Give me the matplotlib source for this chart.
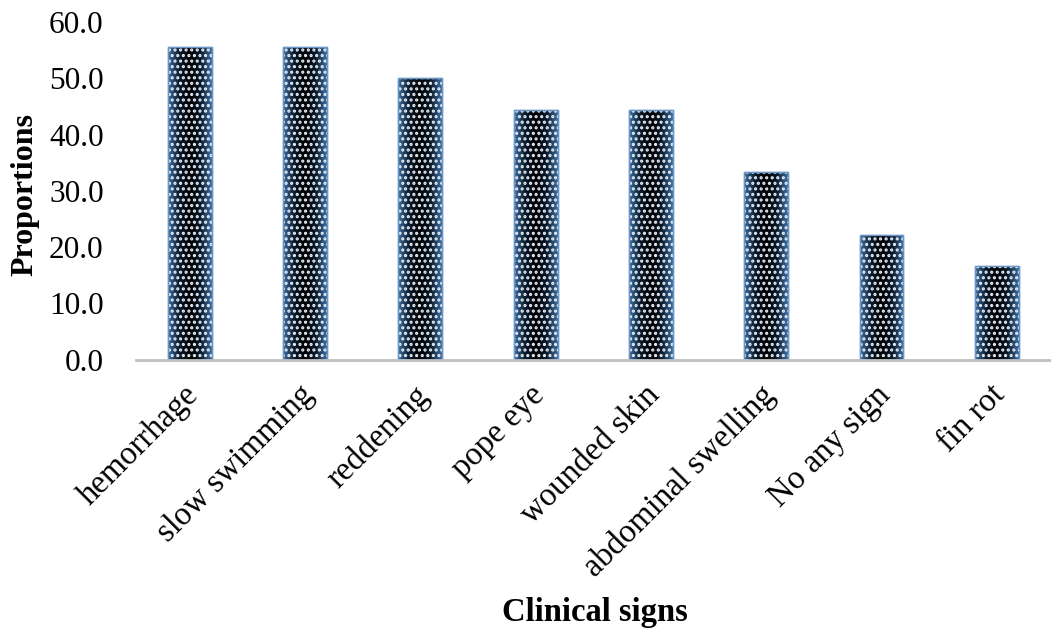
import matplotlib
matplotlib.use('Agg')
import matplotlib.pyplot as plt
import matplotlib.transforms as mtransforms
from matplotlib.colors import LinearSegmentedColormap
import numpy as np

# Clinical signs and their proportions (%)
signs = ['hemorrhage', 'slow swimming', 'reddening', 'pope eye', 'wounded skin',
         'abdominal swelling', 'No any sign', 'fin rot']
proportions = [55.6, 55.6, 50.0, 44.4, 44.4, 33.3, 22.2, 16.7]
yticks = [0, 10, 20, 30, 40, 50, 60]

plt.rcParams['font.family'] = ['Liberation Serif', 'DejaVu Serif']
plt.rcParams['hatch.linewidth'] = 1.5

fig = plt.figure(figsize=(10.51, 6.30), dpi=100)
ax = fig.add_axes([0.129, 0.429, 0.871, 0.536])

x = list(range(len(signs)))
width = 0.38
# base bars with blue rim
bars = ax.bar(x, proportions, width=width, color='#06111c', edgecolor='#6a97c8', linewidth=1.0, zorder=2)

# bluish-to-black gradient inside each bar
cmap = LinearSegmentedColormap.from_list('barfill', ['#3f6f9f', '#0b1a2a', '#000000', '#0b1a2a', '#3f6f9f'])
grad = np.linspace(0, 1, 64).reshape(1, -1)
for b in bars:
    im = ax.imshow(grad, cmap=cmap, aspect='auto', zorder=2.5,
                   extent=[b.get_x(), b.get_x() + b.get_width(), 0, b.get_height()])
    im.set_clip_path(b)

# white dotted overlay
ax.bar(x, proportions, width=width, color='none', edgecolor='#e3ecf7', hatch='...', linewidth=0, zorder=3)
# rim on top
ax.bar(x, proportions, width=width, color='none', edgecolor='#6a97c8', linewidth=1.0, zorder=4)

ax.set_xlim(-0.47, len(signs) - 0.53)
ax.set_ylim(0, 60)
ax.set_yticks(yticks)
ax.set_yticklabels([f'{v:.1f}' for v in yticks], fontsize=22.5)
ax.set_xticks(x)
ax.set_xticklabels(signs, rotation=45, ha='right', rotation_mode='anchor', fontsize=23.5)
ax.tick_params(axis='y', length=0, pad=23)
ax.tick_params(axis='x', length=0, pad=14.5)
shift = mtransforms.ScaledTranslation(-7 / 100, 0, fig.dpi_scale_trans)
for lbl in ax.get_xticklabels():
    lbl.set_transform(lbl.get_transform() + shift)

for s in ['top', 'right', 'left']:
    ax.spines[s].set_visible(False)
ax.spines['bottom'].set_color('#bfbfbf')
ax.spines['bottom'].set_linewidth(2)
ax.spines['bottom'].set_zorder(5)

ax.set_ylabel('Proportions', fontsize=23, fontweight='bold')
ax.yaxis.set_label_coords(-0.105, 0.488)
fig.text(0.566, 0.027, 'Clinical signs', fontsize=23.5, fontweight='bold', ha='center', va='center')

plt.savefig('out.png', dpi=100)
plt.close()
